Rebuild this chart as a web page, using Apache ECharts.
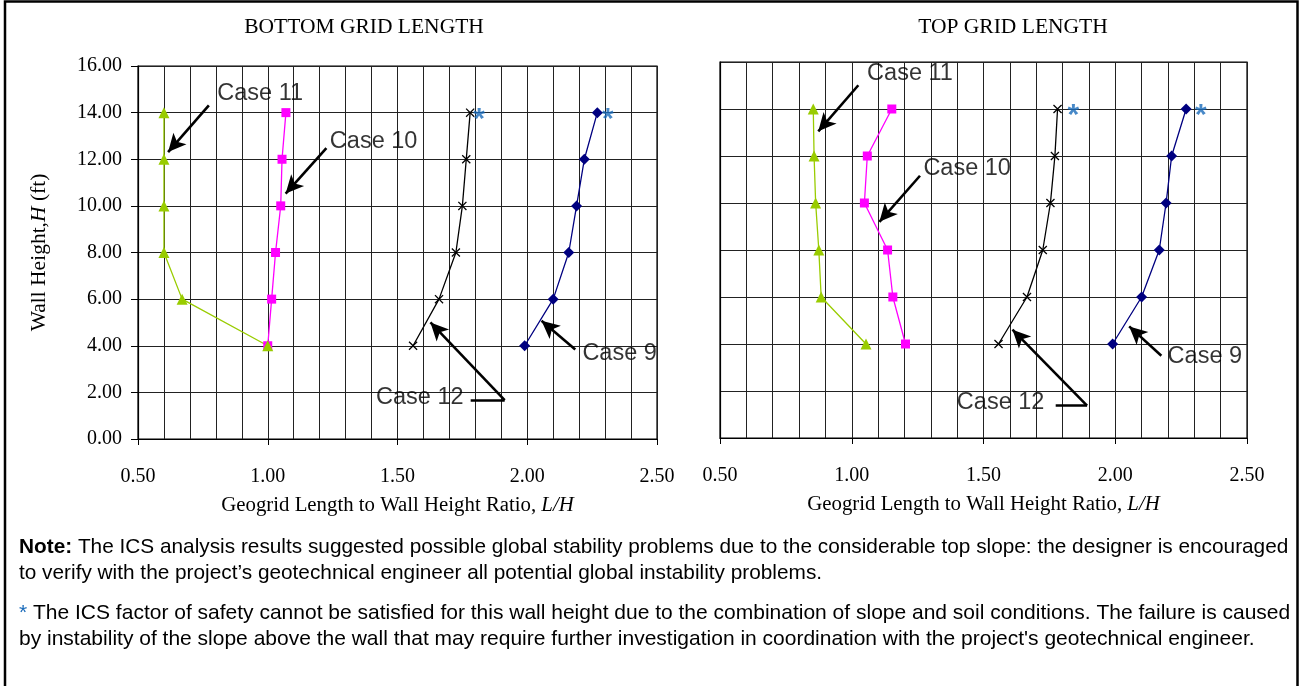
<!DOCTYPE html>
<html><head><meta charset="utf-8">
<script src="https://cdn.jsdelivr.net/npm/echarts@6/dist/echarts.min.js"></script>
<style>html,body{margin:0;padding:0;background:#fff}#c{width:1301px;height:686px}</style>
</head><body><div id="c"></div>
<script>
// ---- data ----
const wallHeights = [4, 6, 8, 10, 12, 14];
const xTickLabels = ['0.50', '1.00', '1.50', '2.00', '2.50'];
const yTickLabels = ['0.00', '2.00', '4.00', '6.00', '8.00', '10.00', '12.00', '14.00', '16.00'];
const caseNames = ['Case 9', 'Case 10', 'Case 11', 'Case 12'];

const bottomCase9  = [1.99, 2.10, 2.16, 2.19, 2.22, 2.27];
const bottomCase10 = [1.00, 1.015, 1.03, 1.05, 1.055, 1.07];
const bottomCase11 = [1.00, 0.67, 0.60, 0.60, 0.60, 0.60];
const bottomCase12 = [1.56, 1.66, 1.725, 1.75, 1.765, 1.78];

const topCase9  = [1.99, 2.10, 2.167, 2.193, 2.214, 2.269];
const topCase10 = [1.204, 1.156, 1.136, 1.048, 1.059, 1.152];
const topCase11 = [1.054, 0.884, 0.875, 0.863, 0.857, 0.854];
const topCase12 = [1.557, 1.665, 1.725, 1.754, 1.771, 1.781];

// annotations (data units: [L/H, H])
const bottomLabels = [['Case 11', 0.971, 14.82], ['Case 10', 1.408, 12.77], ['Case 12', 1.586, 1.80], ['Case 9', 2.356, 3.68]];
const bottomArrows = [[[0.773, 14.31], [0.616, 12.31]], [[1.226, 12.48], [1.069, 10.53]], [[1.913, 1.67], [1.627, 5.0]], [[2.185, 3.84], [2.055, 5.07]]];
const bottomLeaders = [[[1.782, 1.67], [1.913, 1.67]]];
const bottomStars = [[1.814, 14.05], [2.311, 14.05]];

const topLabels = [['Case 11', 1.221, 15.52], ['Case 10', 1.438, 11.48], ['Case 12', 1.565, 1.52], ['Case 9', 2.340, 3.45]];
const topArrows = [[[1.025, 15.01], [0.873, 13.05]], [[1.259, 11.16], [1.105, 9.20]], [[1.893, 1.38], [1.610, 4.61]], [[2.175, 3.50], [2.053, 4.75]]];
const topLeaders = [[[1.774, 1.38], [1.893, 1.38]]];
const topStars = [[1.841, 14.04], [2.325, 14.04]];

// ---- styles ----
const serif = '"Liberation Serif", "Times New Roman", serif';
const sans = '"Liberation Sans", Arial, sans-serif';
const xShape = 'path://M0,1L1,0L5,4L9,0L10,1L6,5L10,9L9,10L5,6L1,10L0,9L4,5Z';
const caseStyles = [
  { color: '#000080', symbol: 'diamond', size: 11 },
  { color: '#FF00FF', symbol: 'rect', size: 9 },
  { color: '#99CC00', symbol: 'triangle', size: 11 },
  { color: '#000000', symbol: xShape, size: 9 }
];

function caseSeries(idx, values, ci) {
  const st = caseStyles[ci];
  return {
    type: 'line', name: caseNames[ci], xAxisIndex: idx, yAxisIndex: idx,
    data: values.map((v, i) => [v, wallHeights[i]]),
    symbol: st.symbol, symbolSize: st.size, showSymbol: true,
    lineStyle: { color: st.color, width: 1.3 },
    itemStyle: { color: st.color },
    z: 3, animation: false, silent: true
  };
}

function annotationSeries(idx, labels, arrows, leaders, stars) {
  const lines = [];
  arrows.forEach(a => lines.push([{ coord: a[0], symbol: 'none' }, { coord: a[1], symbol: 'arrow' }]));
  leaders.forEach(a => lines.push([{ coord: a[0], symbol: 'none' }, { coord: a[1], symbol: 'none' }]));
  return [{
    type: 'scatter', xAxisIndex: idx, yAxisIndex: idx, silent: true, animation: false,
    data: labels.map(l => ({ value: [l[1], l[2]], name: l[0] })),
    symbolSize: 1, itemStyle: { color: 'rgba(0,0,0,0)' },
    label: { show: true, position: 'inside', formatter: p => p.name, fontFamily: sans, fontSize: 23.5, color: '#000' },
    markLine: {
      silent: true, animation: false, symbolSize: [13, 18],
      lineStyle: { color: '#000', width: 2.6, type: 'solid' },
      label: { show: false }, data: lines
    },
    z: 5
  }, {
    type: 'scatter', xAxisIndex: idx, yAxisIndex: idx, silent: true, animation: false,
    data: stars, symbolSize: 1, itemStyle: { color: 'rgba(0,0,0,0)' },
    label: { show: true, position: 'inside', formatter: '*', fontFamily: sans, fontWeight: 'bold', fontSize: 30, color: '#1A6BBA', offset: [0, 8] },
    z: 5
  }];
}

function xAxisDef(idx, gridIdx) {
  return {
    type: 'value', gridIndex: gridIdx, min: 0.5, max: 2.5, interval: 0.5,
    axisLine: { show: true, onZero: false, lineStyle: { color: '#000', width: 1.2 } },
    axisTick: { show: true, length: 6, lineStyle: { color: '#000' } },
    axisLabel: { margin: 28, fontFamily: serif, fontSize: 20, color: '#000',
      formatter: v => xTickLabels[Math.round((v - 0.5) / 0.5)] },
    splitLine: { show: true, lineStyle: { color: '#222', width: 1 } },
    minorTick: { show: false, splitNumber: 5 },
    minorSplitLine: { show: true, lineStyle: { color: '#222', width: 1 } },
    name: '{n|Geogrid Length to Wall Height Ratio, }{i|L/H}',
    nameLocation: 'middle', nameGap: 56,
    nameTextStyle: { rich: {
      n: { fontFamily: serif, fontSize: 20.8, color: '#000' },
      i: { fontFamily: serif, fontSize: 20.8, fontStyle: 'italic', color: '#000' } } }
  };
}

const option = {
  animation: false,
  backgroundColor: '#fff',
  grid: [
    { left: 138, right: 644, top: 66, bottom: 247, show: true, borderColor: '#000', borderWidth: 1.2, backgroundColor: 'transparent' },
    { left: 720, right: 54, top: 62, bottom: 248, show: true, borderColor: '#000', borderWidth: 1.2, backgroundColor: 'transparent' }
  ],
  xAxis: [xAxisDef(0, 0), xAxisDef(1, 1)],
  yAxis: [
    {
      type: 'value', gridIndex: 0, min: 0, max: 16, interval: 2,
      axisLine: { show: true, lineStyle: { color: '#000', width: 1.2 } },
      axisTick: { show: true, length: 7, lineStyle: { color: '#000' } },
      axisLabel: { margin: 16, fontFamily: serif, fontSize: 20, color: '#000',
        formatter: v => yTickLabels[Math.round(v / 2)] },
      splitLine: { show: true, lineStyle: { color: '#222', width: 1 } },
      name: '{n|Wall Height,}{i|H}{n| (ft)}',
      nameLocation: 'middle', nameGap: 88, nameRotate: 90,
      nameTextStyle: { rich: {
        n: { fontFamily: serif, fontSize: 21.5, color: '#000' },
        i: { fontFamily: serif, fontSize: 21.5, fontStyle: 'italic', color: '#000' } } }
    },
    {
      type: 'value', gridIndex: 1, min: 0, max: 16, interval: 2,
      axisLine: { show: true, lineStyle: { color: '#000', width: 1.2 } },
      axisTick: { show: false },
      axisLabel: { show: false },
      splitLine: { show: true, lineStyle: { color: '#222', width: 1 } }
    }
  ],
  series: [
    caseSeries(0, bottomCase9, 0), caseSeries(0, bottomCase10, 1), caseSeries(0, bottomCase11, 2), caseSeries(0, bottomCase12, 3),
    caseSeries(1, topCase9, 0), caseSeries(1, topCase10, 1), caseSeries(1, topCase11, 2), caseSeries(1, topCase12, 3),
    ...annotationSeries(0, bottomLabels, bottomArrows, bottomLeaders, bottomStars),
    ...annotationSeries(1, topLabels, topArrows, topLeaders, topStars)
  ],
  graphic: [
    { type: 'rect', silent: true, shape: { x: 5, y: 1.5, width: 1292.5, height: 700 }, style: { fill: 'none', stroke: '#000', lineWidth: 2.5 } },
    { type: 'text', silent: true, x: 364, y: 27, style: { text: 'BOTTOM GRID LENGTH', align: 'center', verticalAlign: 'middle', fontFamily: serif, fontSize: 21.5, fill: '#000' } },
    { type: 'text', silent: true, x: 1013, y: 27, style: { text: 'TOP GRID LENGTH', align: 'center', verticalAlign: 'middle', fontFamily: serif, fontSize: 21.5, fill: '#000' } },
    { type: 'text', silent: true, x: 19, y: 534, style: {
      text: '{b|Note:} The ICS analysis results suggested possible global stability problems due to the considerable top slope: the designer is encouraged\nto verify with the project\u2019s geotechnical engineer all potential global instability problems.',
      fontFamily: sans, fontSize: 20.8, lineHeight: 26, fill: '#000', verticalAlign: 'top',
      rich: { b: { fontFamily: sans, fontSize: 20.8, fontWeight: 'bold', lineHeight: 26, fill: '#000' } } } },
    { type: 'text', silent: true, x: 19, y: 600, style: {
      text: '{s|*} The ICS factor of safety cannot be satisfied for this wall height due to the combination of slope and soil conditions. The failure is caused\nby instability of the slope above the wall that may require further investigation in coordination with the project\'s geotechnical engineer.',
      fontFamily: sans, fontSize: 21.0, lineHeight: 26, fill: '#000', verticalAlign: 'top',
      rich: { s: { fontFamily: sans, fontSize: 21.0, lineHeight: 26, fill: '#1A6BBA' } } } }
  ]
};

const chart = echarts.init(document.getElementById('c'), null, { renderer: 'canvas' });
chart.setOption(option);
</script>
</body></html>
